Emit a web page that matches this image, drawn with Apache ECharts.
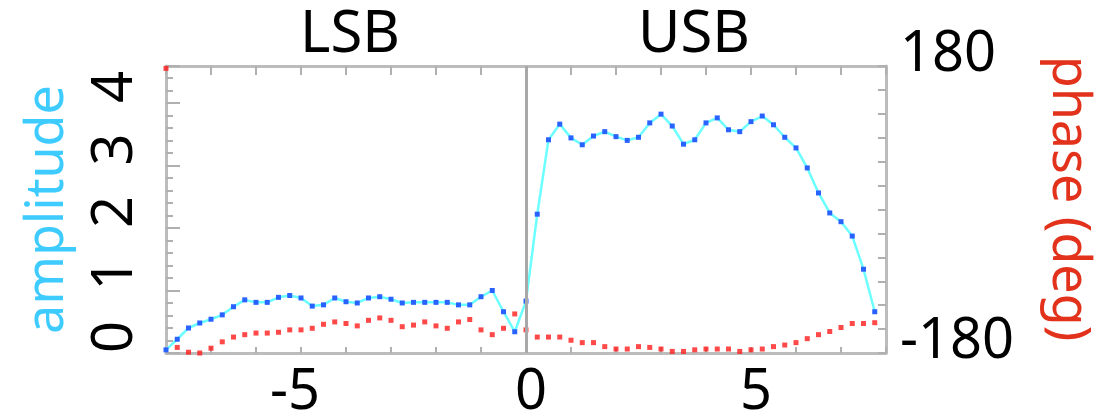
<!DOCTYPE html>
<html>
<head>
<meta charset="utf-8">
<style>
  html, body { margin: 0; padding: 0; background: #ffffff; }
  #chart { width: 1097px; height: 416px; }
</style>
<script src="https://cdn.jsdelivr.net/npm/echarts@6/dist/echarts.min.js"></script>
</head>
<body>
<div id="chart"></div>
<script>
// Channel offsets (LSB negative, USB positive)
const offsets = [
  -8, -7.75, -7.5, -7.25, -7, -6.75, -6.5, -6.25, -6, -5.75, -5.5, -5.25, -5, -4.75, -4.5, -4.25,
  -4, -3.75, -3.5, -3.25, -3, -2.75, -2.5, -2.25, -2, -1.75, -1.5, -1.25, -1, -0.75, -0.5, -0.25,
  0, 0.25, 0.5, 0.75, 1, 1.25, 1.5, 1.75, 2, 2.25, 2.5, 2.75, 3, 3.25, 3.5, 3.75,
  4, 4.25, 4.5, 4.75, 5, 5.25, 5.5, 5.75, 6, 6.25, 6.5, 6.75, 7, 7.25, 7.5, 7.75
];

// Amplitude per channel
const amplitude = [
  0.05, 0.22, 0.40, 0.48, 0.54, 0.61, 0.74, 0.85, 0.81, 0.81, 0.89, 0.92, 0.88, 0.75, 0.77, 0.88,
  0.82, 0.80, 0.88, 0.90, 0.86, 0.80, 0.81, 0.81, 0.81, 0.81, 0.77, 0.77, 0.90, 1.00, 0.66, 0.34,
  0.83, 2.22, 3.41, 3.66, 3.44, 3.33, 3.47, 3.54, 3.46, 3.40, 3.45, 3.68, 3.82, 3.63, 3.34, 3.41,
  3.68, 3.76, 3.57, 3.54, 3.70, 3.79, 3.65, 3.45, 3.28, 2.96, 2.56, 2.24, 2.10, 1.87, 1.34, 0.66
];

// Phase per channel (deg)
const phase = [
  177, -173, -179, -180, -174, -166, -160, -157, -155, -155, -154, -151, -151, -149, -144, -141,
  -143, -146, -139, -136, -139, -147, -145, -141, -146, -149, -141, -138, -151, -157, -149, -131,
  -151, -160, -160, -160, -164, -167, -167, -172, -175, -175, -172, -173, -175, -178, -178, -176,
  -175, -175, -175, -178, -176, -175, -172, -170, -167, -162, -157, -153, -148, -143, -143, -142
];

const xTickLabels = [-5, 0, 5];
const phaseTickLabels = [-180, 180];
const sidebandNames = ['LSB', 'USB'];

const FONT = '"Noto Sans", "DejaVu Sans", sans-serif';
const FRAME = '#bcbcbc';
const TICK = '#b0b0b0';

const chart = echarts.init(document.getElementById('chart'), null, { renderer: 'canvas' });

const ampData = offsets.map((x, i) => [x, amplitude[i]]);
const phaseData = offsets.map((x, i) => [x, phase[i]]);

const option = {
  animation: false,
  backgroundColor: '#ffffff',
  grid: { left: 166, right: 211, top: 66, bottom: 63, containLabel: false, outerBoundsMode: 'none' },
  graphic: [
    { type: 'text', x: 350, y: 35, style: { text: sidebandNames[0], font: '58px ' + FONT, fill: '#000', textAlign: 'center', textVerticalAlign: 'middle' } },
    { type: 'text', x: 694, y: 35, style: { text: sidebandNames[1], font: '58px ' + FONT, fill: '#000', textAlign: 'center', textVerticalAlign: 'middle' } }
  ],
  xAxis: [
    {
      type: 'value', position: 'bottom', min: -8, max: 8, interval: 1,
      axisLine: { show: true, onZero: false, lineStyle: { color: FRAME, width: 3 } },
      axisTick: { show: true, inside: true, length: 6, lineStyle: { color: TICK, width: 2 } },
      splitLine: { show: false },
      axisLabel: {
        show: true, margin: 12, color: '#000', fontFamily: FONT, fontSize: 56,
        padding: [0, 0, 0, 10],
        formatter: v => {
          if (!xTickLabels.includes(v)) return '';
          return v < 0 ? '{neg|' + v + '}' : String(v);
        },
        rich: {
          neg: { color: '#000', fontFamily: FONT, fontSize: 56, padding: [0, 22, 0, 0] }
        }
      }
    },
    {
      type: 'value', position: 'top', min: -8, max: 8, interval: 1,
      axisLine: { show: true, onZero: false, lineStyle: { color: FRAME, width: 3 } },
      axisTick: { show: true, inside: true, length: 9, lineStyle: { color: TICK, width: 2 } },
      splitLine: { show: false },
      axisLabel: { show: false }
    }
  ],
  yAxis: [
    {
      type: 'value', position: 'left', min: 0, max: 4.59, interval: 1,
      name: 'amplitude', nameLocation: 'middle', nameRotate: 90, nameGap: 92,
      nameTextStyle: { color: '#3ecbff', fontFamily: FONT, fontSize: 52 },
      axisLine: { show: true, onZero: false, lineStyle: { color: FRAME, width: 3 } },
      axisTick: { show: true, inside: true, length: 14, lineStyle: { color: TICK, width: 2 } },
      minorTick: { show: true, splitNumber: 5, length: 7, lineStyle: { color: TICK, width: 2 } },
      splitLine: { show: false },
      axisLabel: {
        show: true, rotate: 90, align: 'left', margin: 22, color: '#000', fontFamily: FONT, fontSize: 56,
        formatter: v => Number.isInteger(v) ? String(v) : ''
      }
    },
    {
      type: 'value', position: 'right', min: -180, max: 180, interval: 30,
      name: 'phase (deg)', nameLocation: 'middle', nameRotate: -90, nameGap: 156,
      nameTextStyle: { color: '#e2321c', fontFamily: FONT, fontSize: 52, padding: [0, 22, 0, 0] },
      axisLine: { show: true, onZero: false, lineStyle: { color: FRAME, width: 3 } },
      axisTick: { show: true, inside: true, length: 8, lineStyle: { color: TICK, width: 2 } },
      splitLine: { show: false },
      axisLabel: {
        show: true, margin: 14, color: '#000', fontFamily: FONT, fontSize: 56,
        verticalAlign: 'bottom', lineHeight: 22,
        formatter: v => phaseTickLabels.includes(v) ? String(v) : ''
      }
    }
  ],
  series: [
    {
      name: 'amplitude', type: 'line', xAxisIndex: 0, yAxisIndex: 0,
      data: ampData,
      symbol: 'rect', symbolSize: 5, showSymbol: true,
      itemStyle: { color: '#2a62ff' },
      lineStyle: { color: '#6cffff', width: 2.5 },
      z: 3,
      markLine: {
        silent: true, symbol: 'none', label: { show: false },
        lineStyle: { color: '#a8a8a8', width: 3, type: 'solid' },
        data: [{ xAxis: 0 }]
      }
    },
    {
      name: 'phase', type: 'scatter', xAxisIndex: 0, yAxisIndex: 1,
      data: phaseData,
      symbol: 'rect', symbolSize: 5,
      itemStyle: { color: '#ff1a1a' },
      z: 4
    }
  ]
};

chart.setOption(option);
</script>
</body>
</html>
